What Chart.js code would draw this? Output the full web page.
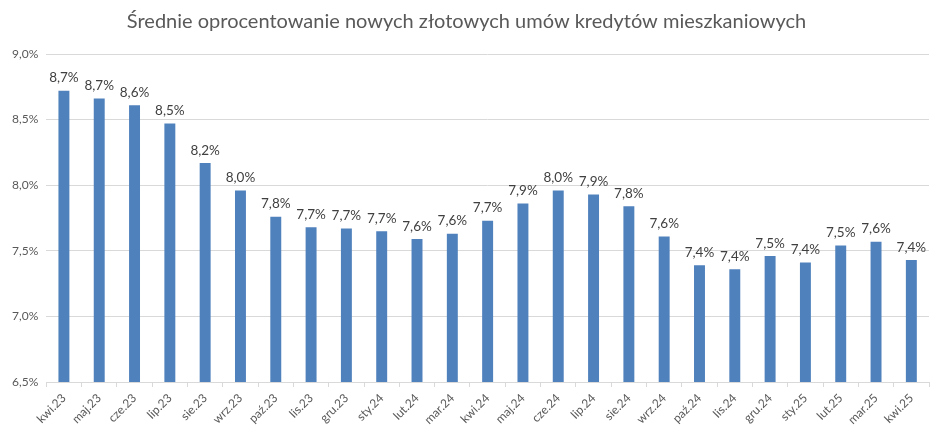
<!DOCTYPE html>
<html><head><meta charset="utf-8">
<script src="https://cdn.jsdelivr.net/npm/chart.js@4"></script>
<style>html,body{margin:0;padding:0;background:#fff}#wrap{width:948px;height:435px}</style>
</head><body><div id="wrap"><canvas id="c" width="948" height="435"></canvas></div>
<script>
const categories = ["kwi.23","maj.23","cze.23","lip.23","sie.23","wrz.23","paź.23","lis.23","gru.23","sty.24","lut.24","mar.24","kwi.24","maj.24","cze.24","lip.24","sie.24","wrz.24","paź.24","lis.24","gru.24","sty.25","lut.25","mar.25","kwi.25"];
const rates = [8.72,8.66,8.61,8.47,8.17,7.96,7.76,7.68,7.67,7.65,7.59,7.63,7.73,7.86,7.96,7.93,7.84,7.61,7.39,7.36,7.46,7.41,7.54,7.57,7.43];
const yTicks = [6.5,7.0,7.5,8.0,8.5,9.0];
const titleText = "Średnie oprocentowanie nowych złotowych umów kredytów mieszkaniowych";
const FONT = "Lato";
const fmt = v => v.toFixed(1).replace('.', ',') + '%';

const valueLabels = {
  id: 'valueLabels',
  afterDatasetsDraw(chart) {
    const ctx = chart.ctx;
    const meta = chart.getDatasetMeta(0);
    ctx.save();
    ctx.font = "13.5px " + FONT;
    ctx.fillStyle = "#404040";
    ctx.textAlign = "center";
    ctx.textBaseline = "bottom";
    meta.data.forEach((el, i) => {
      ctx.fillText(fmt(chart.data.datasets[0].data[i]), el.x, el.y - 6);
    });
    ctx.restore();
  }
};

new Chart(document.getElementById('c'), {
  type: 'bar',
  data: {
    labels: categories,
    datasets: [{ data: rates, backgroundColor: '#4f81bd', borderWidth: 0, categoryPercentage: 1, barPercentage: 0.31 }]
  },
  options: {
    responsive: false,
    animation: false,
    devicePixelRatio: 1,
    layout: { padding: { left: 4, right: 19, top: 0, bottom: 4 } },
    plugins: {
      legend: { display: false },
      tooltip: { enabled: false },
      title: { display: true, text: titleText, color: '#595959', font: { family: FONT, size: 20, weight: 'normal' }, padding: { top: 10, bottom: 20 } }
    },
    scales: {
      x: {
        offset: true,
        grid: { display: true, drawOnChartArea: false, drawTicks: true, tickLength: 5, color: '#d9d9d9', offset: true },
        border: { color: '#d9d9d9', width: 1 },
        ticks: { color: '#595959', font: { family: FONT, size: 12 }, minRotation: 45, maxRotation: 45, padding: 4, autoSkip: false }
      },
      y: {
        min: 6.5, max: 9.0,
        afterBuildTicks: axis => { axis.ticks = yTicks.map(v => ({ value: v })); },
        grid: { color: '#d9d9d9', drawTicks: false },
        border: { display: false },
        ticks: { color: '#595959', font: { family: FONT, size: 12 }, padding: 8, callback: v => fmt(v) }
      }
    }
  },
  plugins: [valueLabels]
});
</script>
</body></html>
